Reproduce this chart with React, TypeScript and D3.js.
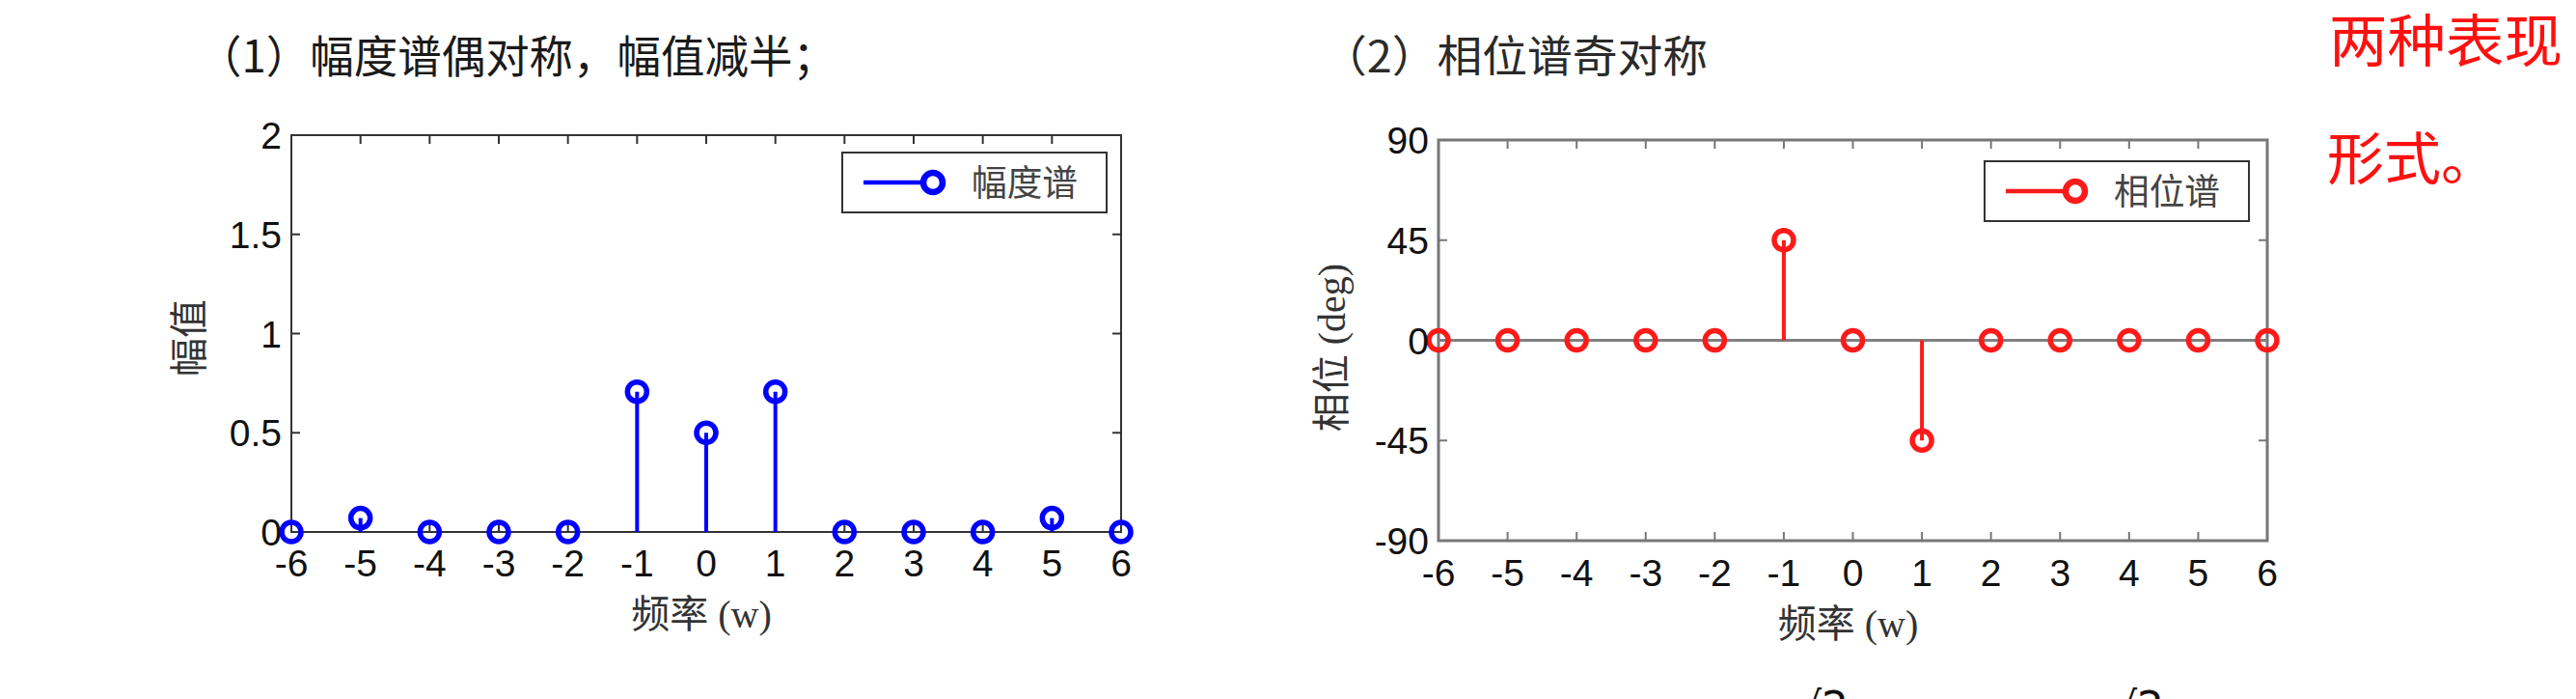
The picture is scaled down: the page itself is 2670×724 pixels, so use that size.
import React from "react";
import * as d3 from "d3";

// spectrum data
const freqs = [-6, -5, -4, -3, -2, -1, 0, 1, 2, 3, 4, 5, 6];
const magnitude = [0, 0.07, 0, 0, 0, 0.707, 0.5, 0.707, 0, 0, 0, 0.07, 0];
const phase = [0, 0, 0, 0, 0, 45, 0, -45, 0, 0, 0, 0, 0];
const magTicks = [0, 0.5, 1, 1.5, 2];
const magTickLabels = ["0", "0.5", "1", "1.5", "2"];
const phaseTicks = [-90, -45, 0, 45, 90];
const phaseTickLabels = ["-90", "-45", "0", "45", "90"];

const W = 2670;
const H = 724;
const tickFont = "'Liberation Sans', Arial, sans-serif";
const labelFont = "'Liberation Serif', 'Noto Sans CJK SC', serif";
const cjkFont = "'Noto Sans CJK SC', sans-serif";

type PanelProps = {
  values: number[];
  yTicks: number[];
  yTickLabels: string[];
  yDomain: [number, number];
  left: number;
  right: number;
  top: number;
  bottom: number;
  color: string;
  frame: string;
  frameWidth: number;
  yLabel: string;
  yLabelX: number;
  yLabelY: number;
  xLabelY: number;
  tickLabelY: number;
  legendLabel: string;
  legendRight: number;
  legendTop: number;
  baseline: boolean;
};

function StemPanel(p: PanelProps) {
  const x = d3.scaleLinear().domain([-6, 6]).range([p.left, p.right]);
  const y = d3.scaleLinear().domain(p.yDomain).range([p.bottom, p.top]);
  const tick = 9;
  const lgW = 274;
  const lgH = 62;
  const lgX = p.legendRight - lgW;
  const lgY = p.legendTop;
  const midX = (p.left + p.right) / 2;

  return (
    <g>
      <rect x={p.left} y={p.top} width={p.right - p.left} height={p.bottom - p.top}
        fill="#fff" stroke={p.frame} strokeWidth={p.frameWidth} />
      {freqs.slice(1, -1).map((f) => (
        <g key={"xt" + f} stroke={p.frame} strokeWidth={2}>
          <line x1={x(f)} x2={x(f)} y1={p.top} y2={p.top + tick} />
          <line x1={x(f)} x2={x(f)} y1={p.bottom} y2={p.bottom - tick} />
        </g>
      ))}
      {p.yTicks.slice(1, -1).map((t) => (
        <g key={"yt" + t} stroke={p.frame} strokeWidth={2}>
          <line x1={p.left} x2={p.left + tick} y1={y(t)} y2={y(t)} />
          <line x1={p.right} x2={p.right - tick} y1={y(t)} y2={y(t)} />
        </g>
      ))}
      {p.baseline && (
        <line x1={x(-6)} x2={x(6)} y1={y(0)} y2={y(0)} stroke="#808080" strokeWidth={3} />
      )}
      {freqs.map((f, i) => (
        <g key={"s" + f}>
          {p.values[i] !== 0 && (
            <line x1={x(f)} x2={x(f)} y1={y(0)} y2={y(p.values[i])} stroke={p.color} strokeWidth={4} />
          )}
          <circle cx={x(f)} cy={y(p.values[i])} r={10} fill="none" stroke={p.color} strokeWidth={5.5} />
        </g>
      ))}
      {freqs.map((f) => (
        <text key={"xl" + f} x={x(f)} y={p.tickLabelY} textAnchor="middle"
          fontFamily={tickFont} fontSize={39} fill="#111">{f}</text>
      ))}
      {p.yTicks.map((t, i) => (
        <text key={"yl" + t} x={p.left - 10} y={y(t) + 14} textAnchor="end"
          fontFamily={tickFont} fontSize={39} fill="#111">{p.yTickLabels[i]}</text>
      ))}
      <text x={midX - 5} y={p.xLabelY} textAnchor="middle" fontFamily={labelFont} fontSize={40} fill="#333">
        频率 (w)
      </text>
      <text transform={`translate(${p.yLabelX},${p.yLabelY}) rotate(-90)`} textAnchor="middle"
        fontFamily={labelFont} fontSize={40} fill="#333">
        {p.yLabel}
      </text>
      <rect x={lgX} y={lgY} width={lgW} height={lgH} fill="#fff" stroke="#333" strokeWidth={2} />
      <line x1={lgX + 22} x2={lgX + 94} y1={lgY + lgH / 2} y2={lgY + lgH / 2} stroke={p.color} strokeWidth={4.5} />
      <circle cx={lgX + 94} cy={lgY + lgH / 2} r={10} fill="#fff" stroke={p.color} strokeWidth={6.5} />
      <text x={lgX + 134} y={lgY + lgH / 2 + 14} fontFamily={cjkFont} fontSize={37} fill="#444"
        textLength={110} lengthAdjust="spacingAndGlyphs">
        {p.legendLabel}
      </text>
    </g>
  );
}

export default function App() {
  return (
    <svg width={W} height={H} viewBox={`0 0 ${W} ${H}`}
      style={{ position: "absolute", left: 0, top: 0, background: "#fff" }}>
      <rect width={W} height={H} fill="#fff" />
      <text x={205} y={75} fontFamily={cjkFont} fontSize={46} fill="#1a1a1a"
        textLength={662} lengthAdjust="spacingAndGlyphs">
        （1）幅度谱偶对称，幅值减半；
      </text>
      <text x={1370} y={75} fontFamily={cjkFont} fontSize={45} fill="#2a2a2a"
        textLength={400} lengthAdjust="spacingAndGlyphs">
        （2）相位谱奇对称
      </text>
      <text x={2414} y={64} fontFamily={cjkFont} fontSize={59} fill="#ff1010"
        textLength={242} lengthAdjust="spacingAndGlyphs">两种表现</text>
      <text x={2412} y={186} fontFamily={cjkFont} fontSize={59} fill="#ff1010">形式。</text>

      <StemPanel values={magnitude} yTicks={magTicks} yTickLabels={magTickLabels} yDomain={[0, 2]}
        left={302} right={1162} top={140} bottom={551} color="#0000ff" frame="#333" frameWidth={2}
        yLabel="幅值" yLabelX={210} yLabelY={350} xLabelY={650} tickLabelY={597}
        legendLabel="幅度谱" legendRight={1147} legendTop={158} baseline={false} />

      <StemPanel values={phase} yTicks={phaseTicks} yTickLabels={phaseTickLabels} yDomain={[-90, 90]}
        left={1491} right={2350} top={145} bottom={560} color="#ff1a1a" frame="#777" frameWidth={3}
        yLabel="相位 (deg)" yLabelX={1394} yLabelY={360} xLabelY={660} tickLabelY={607}
        legendLabel="相位谱" legendRight={2331} legendTop={167} baseline={true} />

      <text x={1860} y={748} fontFamily="'DejaVu Sans', sans-serif" fontSize={44} fill="#111">√2</text>
      <text x={2187} y={748} fontFamily="'DejaVu Sans', sans-serif" fontSize={44} fill="#111">√2</text>
    </svg>
  );
}
